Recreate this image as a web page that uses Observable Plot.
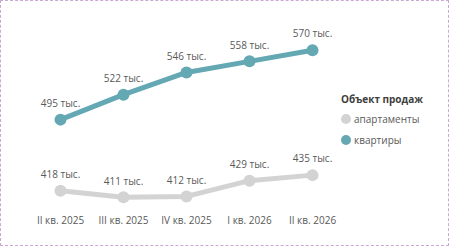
<!DOCTYPE html>
<html>
<head>
<meta charset="utf-8">
<script src="https://cdn.jsdelivr.net/npm/d3@7"></script>
<script src="https://cdn.jsdelivr.net/npm/@observablehq/plot@0.6"></script>
<style>
  html, body { margin: 0; padding: 0; background: #fff; }
  #wrap {
    position: relative; width: 450px; height: 247px; box-sizing: border-box;
    font-family: "Open Sans", "DejaVu Sans", sans-serif;
  }
  #frame {
    position: absolute; left: 0; top: 0; width: 449px; height: 246px; box-sizing: border-box;
    border: 1px dashed #c9a9d2; pointer-events: none;
  }
  #legend {
    position: absolute; left: 341px; top: 92px; font-size: 10px; color: #595959;
  }
  #legend .title { font-weight: 700; font-size: 10px; margin-bottom: 6px; color: #404040; }
  #legend .item { display: flex; align-items: center; height: 14px; margin-bottom: 7px; }
  #legend .sw { width: 10px; height: 10px; border-radius: 50%; margin-right: 3px; }
</style>
</head>
<body>
<div id="wrap">
  <div id="chart"></div>
  <div id="legend"></div>
  <div id="frame"></div>
</div>
<script>
// Quarters on the x axis
const quarters = ["II кв. 2025", "III кв. 2025", "IV кв. 2025", "I кв. 2026", "II кв. 2026"];
// Average price per object, thousand roubles
const apartmentsValues = [418, 411, 412, 429, 435];
const flatsValues = [495, 522, 546, 558, 570];
// Series names and colours
const seriesNames = ["апартаменты", "квартиры"];
const seriesColors = ["#d3d3d3", "#63a8b3"];
const legendTitle = "Объект продаж";

const rows = [
  ...quarters.map((q, i) => ({quarter: q, value: apartmentsValues[i], series: seriesNames[0]})),
  ...quarters.map((q, i) => ({quarter: q, value: flatsValues[i], series: seriesNames[1]}))
];

const chart = Plot.plot({
  width: 450,
  height: 247,
  marginLeft: 25,
  marginRight: 104,
  marginTop: 22,
  marginBottom: 40,
  style: {fontFamily: "'Open Sans', 'DejaVu Sans', sans-serif", fontSize: "10px", color: "#595959", background: "transparent"},
  x: {type: "point", domain: quarters, range: [58, 313], padding: 0, label: null},
  y: {domain: [400, 600], axis: null},
  color: {domain: seriesNames, range: seriesColors},
  marks: [
    Plot.axisX({tickSize: 0, tickPadding: 9, fontSize: 10, fill: "#595959"}),
    Plot.line(rows, {x: "quarter", y: "value", z: "series", stroke: "series", strokeWidth: 5, strokeLinejoin: "round"}),
    Plot.dot(rows, {x: "quarter", y: "value", fill: "series", r: 6}),
    Plot.text(rows, {x: "quarter", y: "value", text: d => `${d.value} тыс.`, dy: -16, fontSize: 10, fill: "#595959"})
  ]
});
document.getElementById("chart").appendChild(chart);

const legend = document.getElementById("legend");
legend.innerHTML = `<div class="title">${legendTitle}</div>` +
  seriesNames.map((n, i) => `<div class="item"><span class="sw" style="background:${seriesColors[i]}"></span>${n}</div>`).join("");
</script>
</body>
</html>
